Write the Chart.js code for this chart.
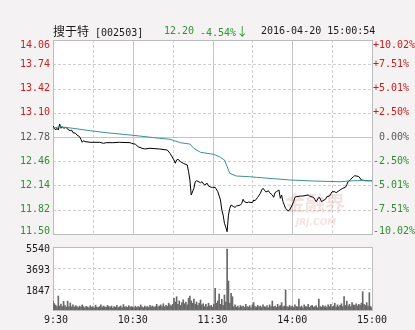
<!DOCTYPE html>
<html>
<head>
<meta charset="utf-8">
<script src="https://cdn.jsdelivr.net/npm/chart.js@4.4.1/dist/chart.umd.min.js"></script>
<style>
  body { margin: 0; background: #f4f2f2; }
  #wrap { position: relative; width: 415px; height: 330px; overflow: hidden; }
  canvas { position: absolute; left: 0; top: 0; }
  .hd { position: absolute; top: 24px; font: 10px "DejaVu Sans Mono", monospace; line-height: 14px; white-space: pre; color: #1a1a1a; }
  .cn { font-family: "Noto Sans CJK SC", "DejaVu Sans Mono"; font-size: 12px; }
  .green { color: #2f952f; }
</style>
</head>
<body>
<div id="wrap">
  <canvas id="priceChart" width="415" height="330"></canvas>
  <canvas id="volChart" width="415" height="330"></canvas>
  <div class="hd" style="left:53px"><span class="cn">搜于特</span> [002503]</div>
  <div class="hd green" style="left:164px">12.20</div>
  <div class="hd green" style="left:200px">-4.54%<span class="cn">↓</span></div>
  <div class="hd" style="left:261px">2016-04-20 15:00:54</div>
</div>
<script>
// minutes since 9:30 (11:30 and 13:00 share minute 120)
const gridMinutes = [0, 30, 60, 90, 120, 150, 180, 210, 240]
const timeTickMin = [0, 60, 120, 180, 240]
const timeTickText = ['9:30', '10:30', '11:30', '14:00', '15:00']

const prevClose = 12.78
const priceTicks = [14.06, 13.74, 13.42, 13.10, 12.78, 12.46, 12.14, 11.82, 11.50]
const pctLabels = ['+10.02%', '+7.51%', '+5.01%', '+2.50%', ' 0.00%', '-2.50%', '-5.01%', '-7.51%', '-10.02%']
const volTicks = [5540, 3693, 1847]

// price line
const priceMin = [0, 2, 3, 4, 5, 6, 7, 8, 10, 11, 13, 14, 15, 17, 18, 20, 21, 22, 23, 24,
  28, 35, 38, 40, 45, 50, 58, 59, 62, 64, 67, 69, 73, 80, 86, 88, 91, 92, 93, 94,
  96, 98, 101, 102, 103, 104, 106, 107, 108, 111, 112, 114, 116, 117, 119, 120, 122, 124, 126, 127,
  128, 129, 130, 131, 132, 133, 134, 136, 137, 138, 141, 142, 143, 144, 146, 147, 150, 151, 152, 154,
  156, 157, 158, 160, 161, 162, 163, 165, 166, 167, 168, 170, 171, 172, 173, 175, 176, 177, 178, 180,
  181, 182, 183, 186, 188, 191, 192, 193, 196, 197, 198, 200, 201, 202, 203, 205, 206, 208, 210, 212,
  213, 216, 218, 220, 221, 222, 224, 226, 227, 230, 232, 235, 239, 240]
const priceVal = [12.925, 12.872, 12.895, 12.872, 12.952, 12.895, 12.916, 12.895, 12.908, 12.882, 12.863, 12.872, 12.837, 12.829, 12.806, 12.784, 12.750, 12.710, 12.731, 12.720,
  12.710, 12.710, 12.697, 12.705, 12.705, 12.710, 12.705, 12.697, 12.684, 12.652, 12.631, 12.622, 12.631, 12.622, 12.608, 12.565, 12.477, 12.433, 12.477, 12.486,
  12.454, 12.433, 12.411, 12.322, 12.213, 12.015, 12.103, 12.190, 12.203, 12.177, 12.190, 12.147, 12.169, 12.133, 12.116, 12.116, 12.116, 12.058, 11.949, 11.817,
  11.751, 11.641, 11.590, 11.530, 11.750, 11.839, 11.883, 11.860, 11.852, 11.869, 11.883, 11.905, 11.958, 11.926, 11.913, 11.922, 11.913, 11.949, 11.939, 11.984,
  12.037, 12.081, 12.103, 12.058, 12.058, 12.071, 12.045, 12.015, 11.984, 12.045, 12.058, 12.081, 11.971, 12.015, 11.926, 11.839, 11.817, 11.807, 11.817, 11.883,
  11.926, 11.984, 11.992, 12.001, 12.001, 12.011, 12.015, 12.001, 11.984, 11.958, 11.926, 11.984, 11.971, 11.926, 11.939, 11.958, 11.992, 12.001, 12.058, 12.058,
  12.045, 12.081, 12.103, 12.116, 12.147, 12.190, 12.222, 12.256, 12.269, 12.259, 12.213, 12.203, 12.203, 12.200]

// average price line
const avgMin = [0, 5, 15, 28, 40, 58, 65, 80, 88, 96, 103, 106, 111, 121, 126, 129, 131, 133, 138, 148, 153, 178, 196, 216, 226, 240]
const avgVal = [12.895, 12.916, 12.895, 12.863, 12.837, 12.806, 12.793, 12.763, 12.750, 12.704, 12.687, 12.630, 12.578, 12.551, 12.512, 12.477, 12.389, 12.300, 12.265, 12.256, 12.248, 12.213, 12.199, 12.190, 12.203, 12.206]

// volume per minute, index = minute
const volumes = [
  780, 560, 420, 300, 1230, 350, 520, 300, 760, 380, 250, 780, 300, 620, 280, 450, 250, 380, 300, 220,
  350, 250, 450, 300, 180, 320, 260, 200, 380, 240, 300, 180, 420, 260, 220, 300, 450, 250, 350, 280,
  230, 400, 300, 260, 350, 180, 300, 250, 400, 220, 280, 350, 200, 480, 260, 300, 220, 380, 250, 300,
  260, 180, 340, 220, 300, 250, 450, 280, 200, 350, 260, 300, 220, 400, 280, 350, 240, 300, 500, 280,
  350, 450, 300, 550, 280, 400, 320, 600, 450, 350, 500, 1030, 700, 1170, 500, 800, 400, 650, 900, 550,
  700, 450, 1030, 1230, 800, 600, 950, 500, 700, 400, 600, 880, 450, 550, 300, 500, 280, 600, 350, 400,
  250, 500, 1900, 600, 800, 1400, 500, 940, 400, 1320, 700, 5360, 2550, 600, 1460, 1170, 300, 450, 250, 350,
  200, 400, 280, 350, 220, 500, 300, 250, 380, 200, 450, 650, 300, 250, 400, 280, 350, 220, 450, 300,
  250, 380, 200, 450, 300, 790, 280, 350, 220, 500, 300, 400, 650, 280, 350, 1760, 300, 250, 400, 280,
  350, 220, 450, 300, 280, 970, 250, 350, 200, 450, 300, 280, 500, 220, 350, 400, 250, 300, 380, 200,
  970, 300, 250, 400, 280, 350, 220, 450, 300, 500, 280, 350, 600, 250, 450, 300, 400, 550, 300, 1170,
  400, 780, 350, 500, 300, 650, 450, 400, 550, 350, 500, 400, 600, 1610, 500, 400, 650, 350, 1520, 300,
  200]

const RED = '#c81e1e', GREEN = '#2f8f2f', GRAY = '#5a5a5a'
const LABEL_FONT = '10px "DejaVu Sans Mono", monospace'

// white plot area + grid (dashed every half hour, solid every hour)
function drawFrame(chart, hLines, solidVal) {
  const { ctx, chartArea: a } = chart
  const x = chart.scales.x, y = chart.scales.y
  ctx.save()
  ctx.fillStyle = '#ffffff'
  ctx.fillRect(a.left, a.top, a.right - a.left, a.bottom - a.top)
  ctx.lineWidth = 1
  gridMinutes.forEach((m) => {
    const px = Math.round(x.getPixelForValue(m)) + 0.5
    const solid = m % 60 === 0
    ctx.setLineDash(solid ? [] : [3, 2])
    ctx.strokeStyle = solid ? '#c4c4c4' : '#cfcfcf'
    ctx.beginPath(); ctx.moveTo(px, a.top); ctx.lineTo(px, a.bottom); ctx.stroke()
  })
  hLines.forEach((v) => {
    const py = Math.round(y.getPixelForValue(v)) + 0.5
    const solid = v === solidVal
    ctx.setLineDash(solid ? [] : [3, 2])
    ctx.strokeStyle = solid ? '#c4c4c4' : '#cfcfcf'
    ctx.beginPath(); ctx.moveTo(a.left, py); ctx.lineTo(a.right, py); ctx.stroke()
  })
  ctx.setLineDash([])
  ctx.strokeStyle = '#bcbcbc'
  ctx.strokeRect(Math.round(a.left) + 0.5, Math.round(a.top) + 0.5, Math.round(a.right - a.left), Math.round(a.bottom - a.top))
  ctx.restore()
}

const pricePlugin = {
  id: 'pricePlugin',
  beforeDatasetsDraw(chart) {
    drawFrame(chart, priceTicks, prevClose)
    // faint jrj watermark
    const ctx = chart.ctx
    ctx.save()
    ctx.fillStyle = 'rgba(220,140,140,0.26)'
    ctx.font = 'bold 20px "Noto Sans CJK SC"'
    ctx.textBaseline = 'alphabetic'
    ctx.fillText('金融界', 285, 211)
    ctx.font = 'italic bold 9px "DejaVu Sans"'
    ctx.fillText('JRJ.COM', 296, 225)
    ctx.restore()
  },
  afterDraw(chart) {
    const { ctx, chartArea: a } = chart
    const y = chart.scales.y
    ctx.save()
    ctx.font = LABEL_FONT
    ctx.textBaseline = 'middle'
    priceTicks.forEach((v, k) => {
      let py = y.getPixelForValue(v)
      py = Math.min(Math.max(py, a.top + 5), a.bottom - 3)
      ctx.fillStyle = v > prevClose ? RED : (v < prevClose ? GREEN : GRAY)
      ctx.textAlign = 'right'
      ctx.fillText(v.toFixed(2), a.left - 3, py)
      ctx.textAlign = 'left'
      ctx.fillText(pctLabels[k], a.right + 1, py)
    })
    ctx.restore()
  }
}

const volPlugin = {
  id: 'volPlugin',
  beforeDatasetsDraw(chart) {
    drawFrame(chart, volTicks, volTicks[0])
  },
  afterDraw(chart) {
    const { ctx, chartArea: a } = chart
    const x = chart.scales.x, y = chart.scales.y
    ctx.save()
    ctx.font = LABEL_FONT
    ctx.textBaseline = 'middle'
    ctx.fillStyle = '#1a1a1a'
    ctx.textAlign = 'right'
    volTicks.forEach((v) => {
      const py = Math.max(y.getPixelForValue(v) + 2, a.top + 2)
      ctx.fillText(String(v), a.left - 3, py)
    })
    ctx.textAlign = 'center'
    timeTickMin.forEach((m, k) => {
      ctx.fillText(timeTickText[k].padStart(5, ' '), x.getPixelForValue(m), a.bottom + 10)
    })
    ctx.restore()
  }
}

new Chart(document.getElementById('priceChart'), {
  type: 'line',
  data: {
    datasets: [{
      data: avgMin.map((m, k) => ({ x: m, y: avgVal[k] })),
      borderColor: '#3f9090',
      borderWidth: 1,
      pointRadius: 0,
      tension: 0
    }, {
      data: priceMin.map((m, k) => ({ x: m, y: priceVal[k] })),
      borderColor: '#000000',
      borderWidth: 1,
      pointRadius: 0,
      tension: 0
    }]
  },
  options: {
    responsive: false,
    animation: false,
    events: [],
    layout: { padding: { left: 53, right: 43, top: 40, bottom: 96 } },
    plugins: { legend: { display: false }, tooltip: { enabled: false } },
    scales: {
      x: { type: 'linear', min: 0, max: 240, display: false },
      y: { min: 11.50, max: 14.06, display: false }
    }
  },
  plugins: [pricePlugin]
})

new Chart(document.getElementById('volChart'), {
  type: 'bar',
  data: {
    datasets: [{
      data: volumes.map((v, i) => ({ x: i, y: v })),
      backgroundColor: '#676767',
      barThickness: 1
    }]
  },
  options: {
    responsive: false,
    animation: false,
    events: [],
    layout: { padding: { left: 53, right: 43, top: 247, bottom: 20 } },
    plugins: { legend: { display: false }, tooltip: { enabled: false } },
    scales: {
      x: { type: 'linear', min: 0, max: 240, offset: false, display: false },
      y: { min: 0, max: 5540, display: false }
    }
  },
  plugins: [volPlugin]
})
</script>
</body>
</html>
